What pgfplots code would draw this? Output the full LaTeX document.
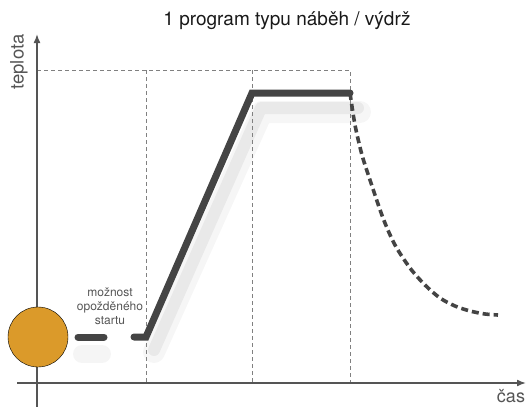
\documentclass[border=0pt]{standalone}
\usepackage{pgfplots}
\pgfplotsset{compat=1.18}
\usepackage{fontspec}
\setmainfont{TeX Gyre Heros}
\usetikzlibrary{arrows.meta}
\definecolor{lineC}{HTML}{444444}
\definecolor{axC}{HTML}{555555}
\definecolor{dashC}{HTML}{808080}
\definecolor{orangeC}{HTML}{DB9A2A}
\begin{document}
\begin{tikzpicture}
\begin{axis}[
  width=531pt, height=407pt, scale only axis,
  xmin=0, xmax=531, ymin=0, ymax=407, y dir=reverse,
  axis lines=none, clip=false,
]
\path[use as bounding box] (axis cs:0,0) rectangle (axis cs:531,407);
% shadow
\addplot[black, opacity=0.035, line width=22pt, line join=round, line cap=round]
  coordinates {(154,352) (262,112) (360,112)};
\addplot[black, opacity=0.05, line width=12pt, line join=round, line cap=round]
  coordinates {(154,350) (261,108) (358,108)};
\addplot[black, opacity=0.04, line width=18pt, line cap=round]
  coordinates {(82,354) (102,354)};
% dashed guides
\addplot[dashC, line width=0.8pt, dash pattern=on 4pt off 3pt]
  coordinates {(37,70) (350,70) (350,383)};
\addplot[dashC, line width=0.8pt, dash pattern=on 4pt off 3pt]
  coordinates {(146,70) (146,383)};
\addplot[dashC, line width=0.8pt, dash pattern=on 4pt off 3pt]
  coordinates {(252,70) (252,383)};
% axes
\addplot[axC, line width=1.6pt, -{Latex[length=9pt,width=7pt]}]
  coordinates {(17,383) (526,383)};
\addplot[axC, line width=1.6pt, -{Latex[length=9pt,width=7pt]}]
  coordinates {(37,407) (37,34)};
% program line
\addplot[lineC, line width=7pt, line cap=round]
  coordinates {(78,337) (104,337)};
\addplot[lineC, line width=7pt, line join=miter, line cap=round]
  coordinates {(134,337) (146,337) (252,93) (350,93)};
\addplot[lineC, line width=3.6pt, dash pattern=on 7pt off 4pt, smooth]
  coordinates {(350,93) (355,125) (362,155) (370,180) (383,218) (395,245) (410,268) (425,285) (440,298) (455,306) (470,311) (485,314) (498,315)};
% orange circle
\addplot[only marks, mark=*, mark size=30pt, mark options={fill=orangeC, draw=none}]
  coordinates {(38,337)};
% texts
\node[align=center, font=\fontsize{12}{14}\selectfont, text=axC] at (axis cs:110,306) {možnost\\opožděného\\startu};
\node[font=\fontsize{19}{22}\selectfont, text=black!90] at (axis cs:287,21) {1 program typu náběh / výdrž};
\node[rotate=90, font=\fontsize{18.5}{20}\selectfont, text=axC] at (axis cs:19,62) {teplota};
\node[font=\fontsize{18}{20}\selectfont, text=axC, inner sep=0pt, anchor=base] at (axis cs:511,402) {čas};
\end{axis}
\end{tikzpicture}
\end{document}
